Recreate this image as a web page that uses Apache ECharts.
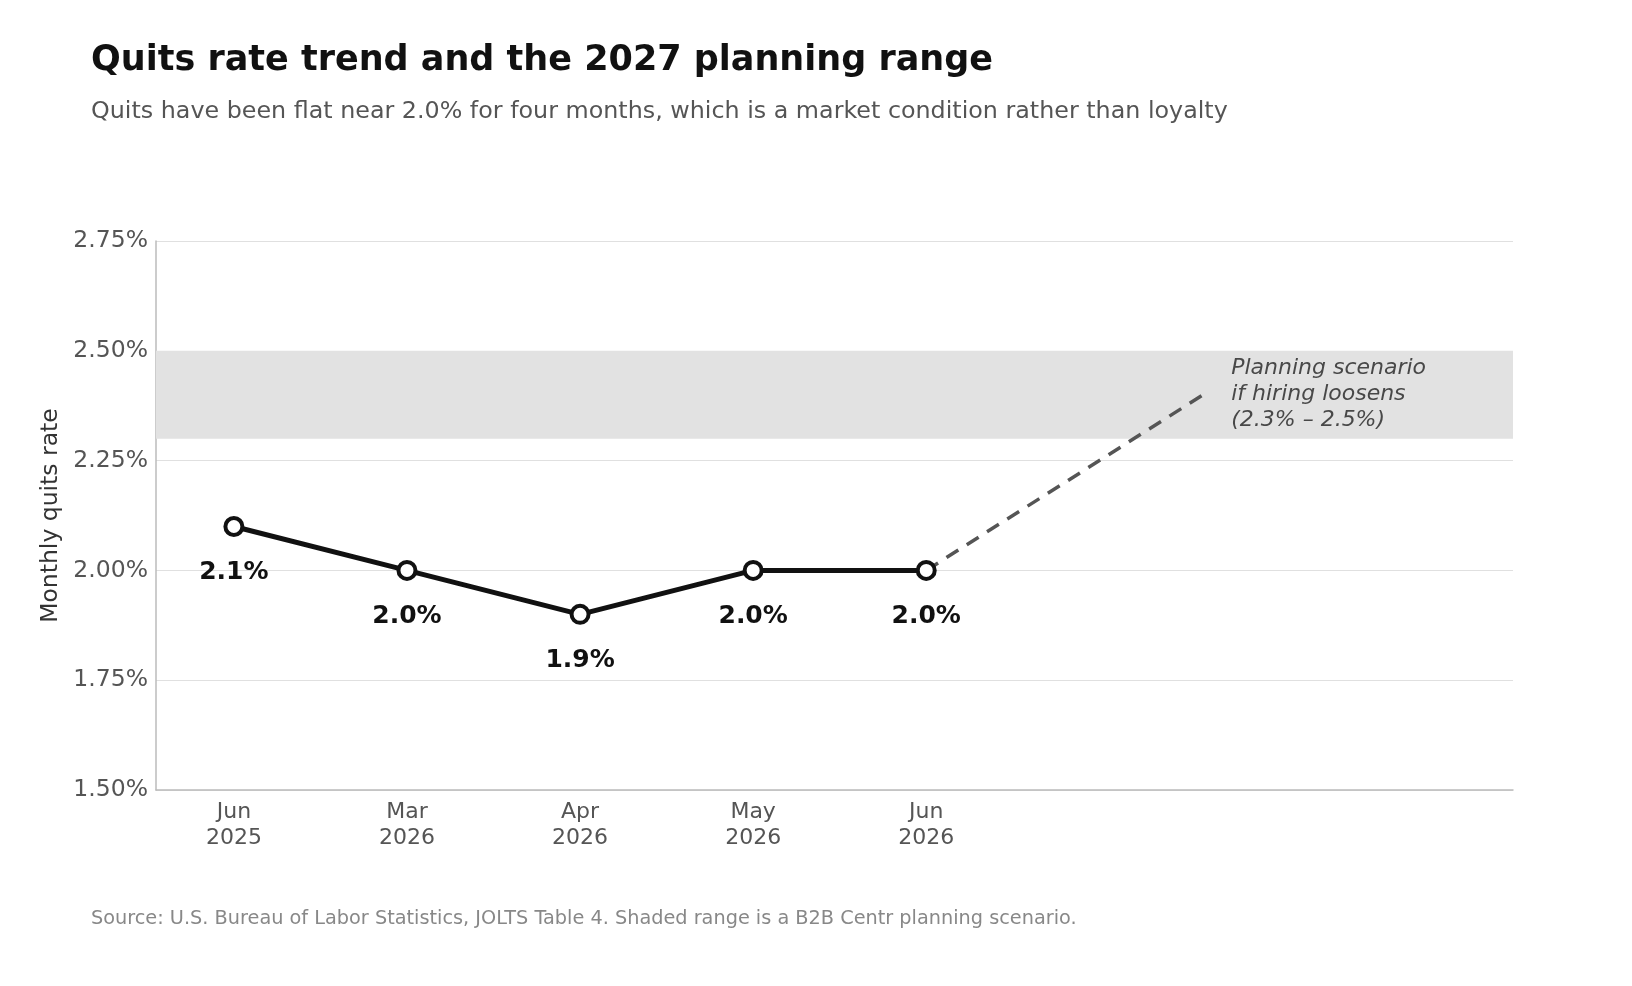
<!DOCTYPE html>
<html>
<head>
<meta charset="utf-8">
<script src="https://cdn.jsdelivr.net/npm/echarts@6/dist/echarts.min.js"></script>
<style>
  html, body { margin: 0; padding: 0; background: #fff; }
  #chartWrapper { width: 1632px; height: 986px; }
</style>
</head>
<body>
<div id="chartWrapper"></div>
<script>
// data
let monthLabels = ['Jun\n2025', 'Mar\n2026', 'Apr\n2026', 'May\n2026', 'Jun\n2026'];
let quitsRate = [2.1, 2.0, 1.9, 2.0, 2.0];
let projectionX = [4, 5.6];
let projectionY = [2.0, 2.4];
let bandRange = [2.3, 2.5];
let bandNote = 'Planning scenario\nif hiring loosens\n(2.3% – 2.5%)';

let font = 'DejaVu Sans';

let actualData = quitsRate.map(function (v, i) { return [i, v]; });
let projData = projectionX.map(function (x, i) { return [x, projectionY[i]]; });

let myChart = echarts.init(document.getElementById('chartWrapper'));

let option = {
    backgroundColor: '#fff',
    animation: false,
    textStyle: { fontFamily: font },
    title: [
        {
            text: 'Quits rate trend and the 2027 planning range',
            left: 86, top: 38,
            textStyle: { fontSize: 35, fontWeight: 'bold', color: '#111', fontFamily: font }
        },
        {
            text: 'Quits have been flat near 2.0% for four months, which is a market condition rather than loyalty',
            left: 86, top: 95,
            textStyle: { fontSize: 23.8, fontWeight: 'normal', color: '#555', fontFamily: font }
        },
        {
            text: 'Source: U.S. Bureau of Labor Statistics, JOLTS Table 4. Shaded range is a B2B Centr planning scenario.',
            left: 86, top: 904,
            textStyle: { fontSize: 19.3, fontWeight: 'normal', color: '#888', fontFamily: font }
        }
    ],
    grid: {
        left: 156,
        right: 119,
        top: 241,
        bottom: 196
    },
    xAxis: {
        type: 'value',
        min: -0.45,
        max: 7.39,
        splitLine: { show: false },
        axisLine: { show: true, onZero: false, lineStyle: { color: '#bbb', width: 1.5 } },
        axisTick: { show: false },
        axisLabel: {
            customValues: [0, 1, 2, 3, 4],
            formatter: function (v) { return monthLabels[Math.round(v)] || ''; },
            color: '#555',
            fontSize: 22,
            lineHeight: 26,
            margin: 9
        }
    },
    yAxis: {
        type: 'value',
        min: 1.5,
        max: 2.75,
        interval: 0.25,
        name: 'Monthly quits rate',
        nameLocation: 'middle',
        nameGap: 92,
        nameTextStyle: { fontSize: 23.5, color: '#333' },
        axisLine: { show: true, onZero: false, lineStyle: { color: '#bbb', width: 1.5 } },
        axisTick: { show: false },
        splitLine: { lineStyle: { color: '#e0e0e0', width: 1.2 } },
        axisLabel: {
            formatter: function (v) { return v.toFixed(2) + '%'; },
            color: '#555',
            fontSize: 23.5,
            margin: 8
        }
    },
    series: [
        {
            type: 'line',
            data: [],
            silent: true,
            markArea: {
                silent: true,
                itemStyle: { color: '#e2e2e2' },
                data: [[{ yAxis: bandRange[0] }, { yAxis: bandRange[1] }]]
            }
        },
        {
            type: 'line',
            data: projData,
            symbol: 'none',
            z: 3,
            lineStyle: { color: '#555', width: 3.5, type: [14, 10] }
        },
        {
            type: 'scatter',
            data: [projData[1]],
            symbolSize: 0,
            z: 4,
            label: {
                show: true,
                position: 'right',
                distance: 28,
                formatter: bandNote,
                fontStyle: 'italic',
                fontSize: 22,
                lineHeight: 26,
                color: '#222',
                align: 'left'
            }
        },
        {
            type: 'line',
            data: actualData,
            z: 5,
            symbol: 'circle',
            symbolSize: 17,
            itemStyle: { color: '#fff', borderColor: '#111', borderWidth: 4 },
            lineStyle: { color: '#111', width: 5 },
            label: {
                show: true,
                position: 'bottom',
                distance: 23,
                formatter: function (p) { return p.value[1].toFixed(1) + '%'; },
                fontSize: 25,
                fontWeight: 'bold',
                color: '#111'
            }
        }
    ]
};

myChart.setOption(option);
</script>
</body>
</html>
